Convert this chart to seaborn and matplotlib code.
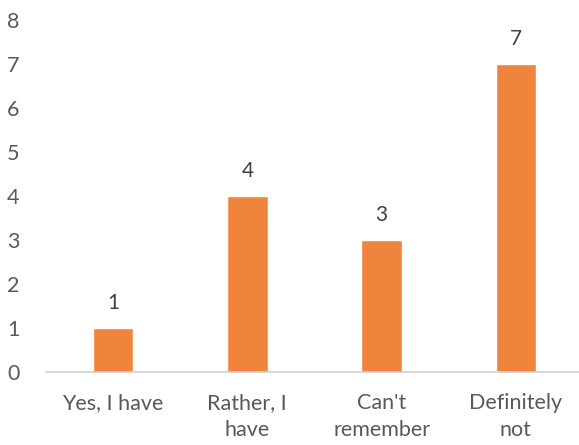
import matplotlib
matplotlib.use('Agg')
import matplotlib.pyplot as plt
import seaborn as sns
import pandas as pd

# Данные
categories = ['Yes, I have', 'Rather, I\nhave', "Can't\nremember", 'Definitely\nnot']
values = [1, 4, 3, 7]

sns.set_style('white')
plt.rcParams['font.family'] = ['Lato', 'DejaVu Sans']

df = pd.DataFrame({'cat': categories, 'val': values})

fig = plt.figure(figsize=(5.79, 4.45), dpi=100)
ax = fig.add_axes([46/579, 73/445, 537/579, 352/445])

sns.barplot(data=df, x='cat', y='val', color='#F0843C', width=0.3, saturation=1, ax=ax)

# Подписи над столбцами
for i, v in enumerate(values):
    ax.text(i, v + 0.35, str(v), ha='center', va='bottom', fontsize=15, color='#404040')

ax.set_ylim(0, 8)
ax.set_xlim(-0.5, 3.5)
ax.set_yticks(range(0, 9))
ax.set_xlabel('')
ax.set_ylabel('')
ax.tick_params(axis='both', length=0, labelsize=15.5, colors='#595959')
ax.tick_params(axis='y', pad=19)
ax.tick_params(axis='x', pad=15)
for lbl in ax.get_xticklabels():
    lbl.set_linespacing(1.45)

for s in ['top', 'right', 'left']:
    ax.spines[s].set_visible(False)
ax.spines['bottom'].set_color('#D0D0D0')
ax.spines['bottom'].set_linewidth(1.2)

fig.savefig('out.png', dpi=100)
